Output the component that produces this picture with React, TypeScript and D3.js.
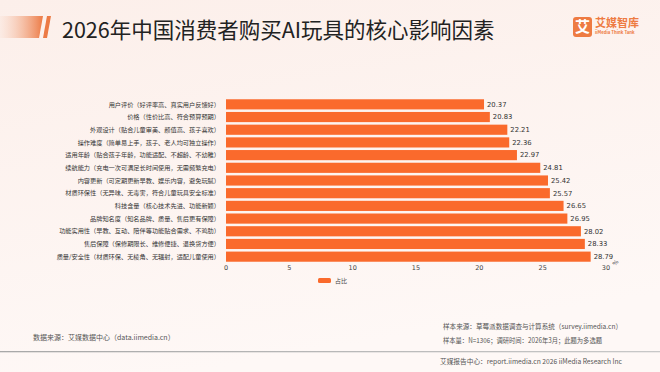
import React from "react";
import * as d3 from "d3";

const factors = [
  "用户评价（好评率高、真实用户反馈好）",
  "价格（性价比高、符合预算预期）",
  "外观设计（贴合儿童审美、颜值高、孩子喜欢）",
  "操作难度（简单易上手，孩子、老人均可独立操作）",
  "适用年龄（贴合孩子年龄，功能适配、不超龄、不幼稚）",
  "续航能力（充电一次可满足长时间使用，无需频繁充电）",
  "内容更新（可定期更新早教、娱乐内容，避免玩腻）",
  "材质环保性（无异味、无毒害，符合儿童玩具安全标准）",
  "科技含量（核心技术先进、功能新颖）",
  "品牌知名度（知名品牌、质量、售后更有保障）",
  "功能实用性（早教、互动、陪伴等功能贴合需求、不鸡肋）",
  "售后保障（保修期限长、维修便捷、退换货方便）",
  "质量/安全性（材质环保、无棱角、无辐射，适配儿童使用）",
];
const shares = [20.37, 20.83, 22.21, 22.36, 22.97, 24.81, 25.42, 25.57, 26.65, 26.95, 28.02, 28.33, 28.79];
const xTicks = [0, 5, 10, 15, 20, 25, 30];

const ORANGE = "#FA6A2C";
const CJK = "'Noto Sans CJK SC', 'Noto Sans', sans-serif";
const NUM = "'DejaVu Sans', sans-serif";

export default function App() {
  const x = d3.scaleLinear().domain([0, 30]).range([226, 606]);
  const y = d3.scaleBand<string>().domain(factors).range([98, 263]).paddingInner(0.2).paddingOuter(0.1);

  return (
    <svg width={660} height={372} style={{ position: "fixed", left: 0, top: 0 }}>
      <defs>
        <linearGradient id="bg" x1="0" y1="0" x2="0.3" y2="1">
          <stop offset="0" stopColor="#FCEFEA" />
          <stop offset="1" stopColor="#FEF8F6" />
        </linearGradient>
        <linearGradient id="deco" x1="0" y1="0" x2="1" y2="0">
          <stop offset="0" stopColor="#F6C3A9" stopOpacity="0.1" />
          <stop offset="1" stopColor="#EC7A45" />
        </linearGradient>
        <linearGradient id="rule" x1="0" y1="0" x2="1" y2="0">
          <stop offset="0" stopColor="#A8A8A8" />
          <stop offset="1" stopColor="#C8C8C8" />
        </linearGradient>
      </defs>
      <rect width={660} height={372} fill="url(#bg)" />

      {/* title */}
      <polygon points="0,16 43,16 39,38 0,38" fill="url(#deco)" />
      <polygon points="47,16 51,16 47,38 43,38" fill="#EC7A45" />
      <text x={62} y={38} fontFamily={CJK} fontSize={21.5} fill="#222">
        2026年中国消费者购买AI玩具的核心影响因素
      </text>

      {/* logo */}
      <rect x={573} y={17} width={19} height={20} rx={3} fill="#EE7B42" />
      <text x={582.5} y={32} textAnchor="middle" fontFamily={CJK} fontSize={15} fontWeight={700} fill="#fff">艾</text>
      <text x={595} y={27} fontFamily={CJK} fontSize={11} fontWeight={700} fill="#EE7B42">艾媒智库</text>
      <text x={595} y={34} fontFamily={CJK} fontSize={4.3} fontWeight={700} fill="#EE7B42">iiMedia Think Tank</text>

      {/* bars */}
      {factors.map((f, i) => {
        const yy = y(f)!;
        const bh = y.bandwidth();
        return (
          <g key={f}>
            <text x={220} y={yy + bh / 2} dy="0.35em" textAnchor="end" fontFamily={CJK} fontSize={6.2} fill="#333">
              {f}
            </text>
            <rect x={x(0)} y={yy} width={x(shares[i]) - x(0)} height={bh} fill={ORANGE} />
            <text x={x(shares[i]) + 3} y={yy + bh / 2} dy="0.35em" fontFamily={NUM} fontSize={6.8} fill="#333">
              {shares[i].toFixed(2)}
            </text>
          </g>
        );
      })}

      {/* x axis ticks */}
      {xTicks.map((t) => (
        <text key={t} x={x(t)} y={270} textAnchor="middle" fontFamily={NUM} fontSize={6.5} fill="#444">
          {t}
        </text>
      ))}
      <text x={617} y={264} textAnchor="middle" fontFamily={NUM} fontSize={6} fill="#555" transform="rotate(-50 617 264)">%</text>

      {/* legend */}
      <rect x={318} y={278} width={13} height={5} rx={1.5} fill={ORANGE} />
      <text x={335} y={280.5} dy="0.35em" fontFamily={CJK} fontSize={6} fill="#444">占比</text>

      {/* footer */}
      <text x={33} y={340} fontFamily={CJK} fontSize={7} fill="#555">数据来源：艾媒数据中心（data.iimedia.cn）</text>
      <text x={443} y={329} fontFamily={CJK} fontSize={7} fill="#555" textLength={179} lengthAdjust="spacingAndGlyphs">
        样本来源：草莓派数据调查与计算系统（survey.iimedia.cn）
      </text>
      <text x={443} y={343} fontFamily={CJK} fontSize={7} fill="#555" textLength={159} lengthAdjust="spacingAndGlyphs">
        样本量：N=1306；调研时间：2026年3月；此题为多选题
      </text>
      <rect x={0} y={351} width={660} height={1.3} fill="url(#rule)" />
      <text x={440} y={364} fontFamily={CJK} fontSize={7} fill="#555" textLength={182} lengthAdjust="spacingAndGlyphs">
        艾媒报告中心：report.iimedia.cn  2026 iiMedia Research Inc
      </text>
    </svg>
  );
}
